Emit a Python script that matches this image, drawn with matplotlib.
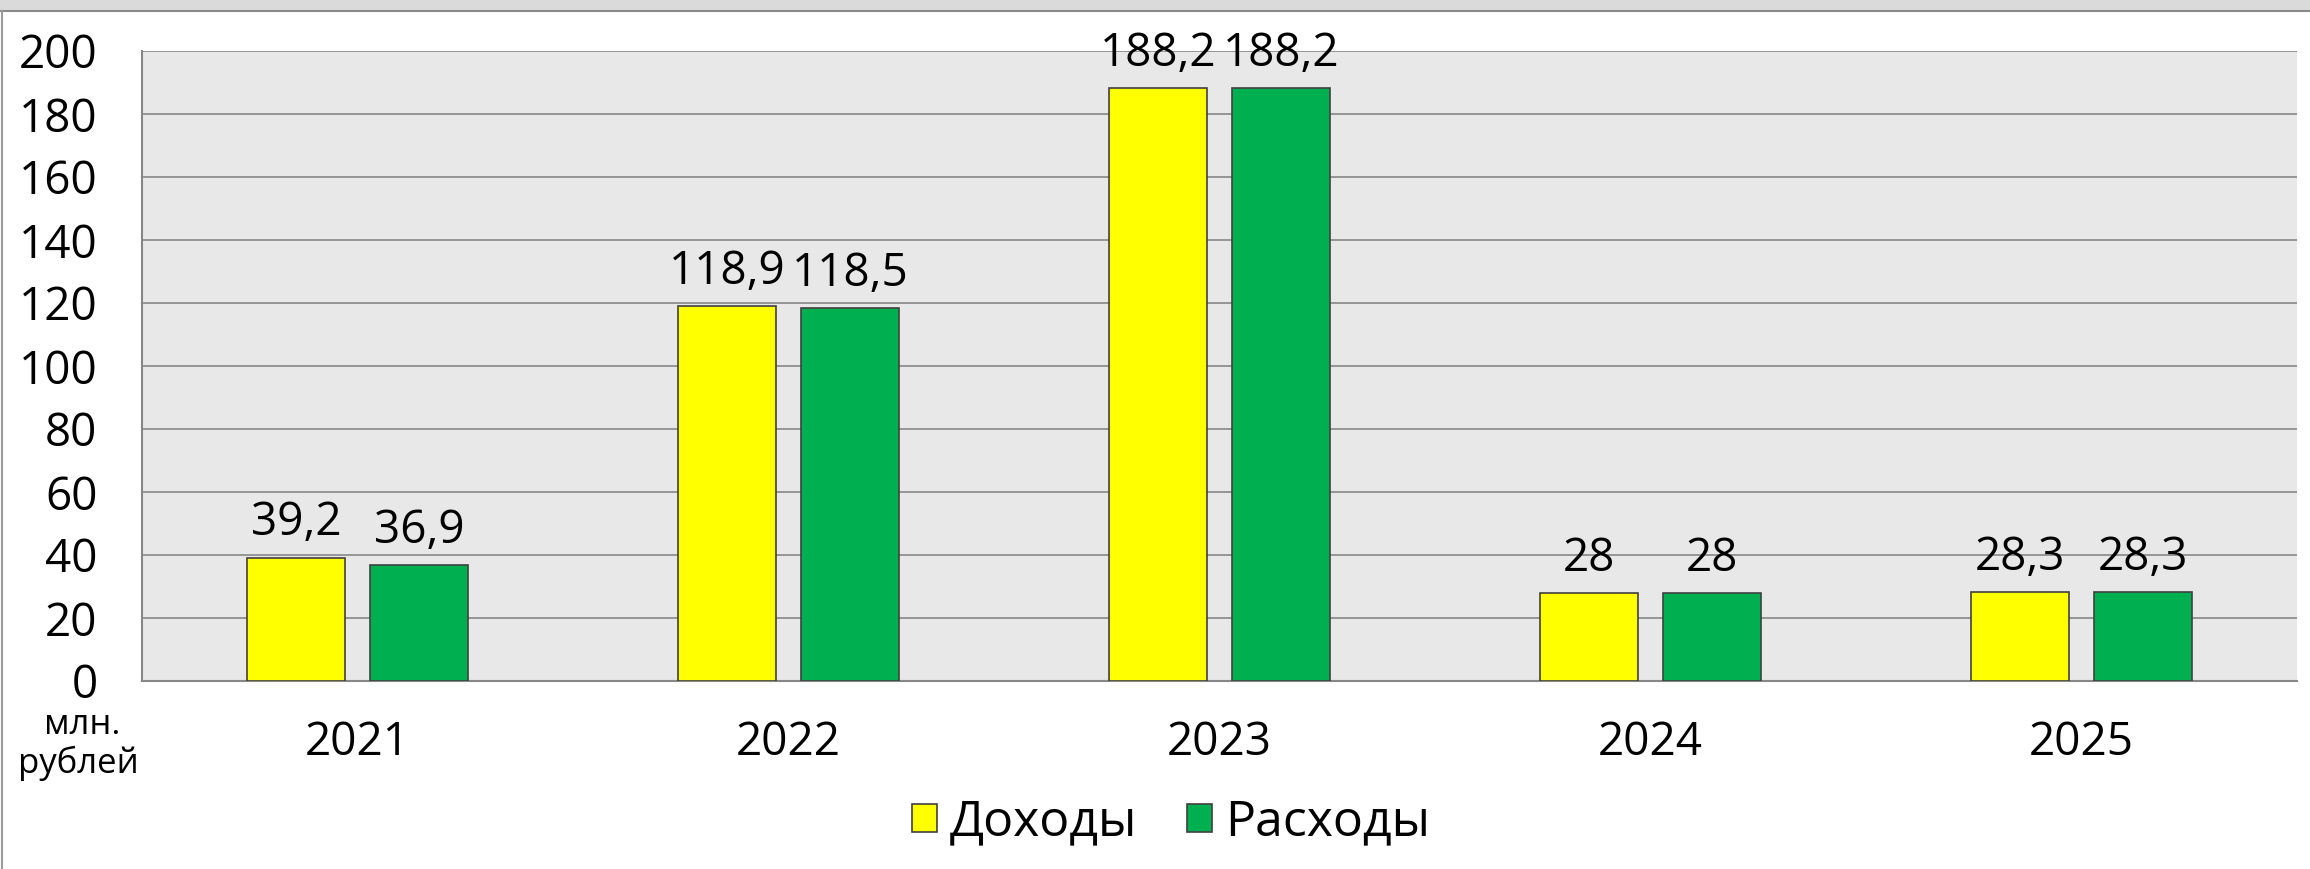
import matplotlib.pyplot as plt
import numpy as np
from matplotlib.patches import Rectangle
from matplotlib.lines import Line2D

plt.rcParams['font.family'] = ['Open Sans', 'DejaVu Sans']

years = ['2021', '2022', '2023', '2024', '2025']
dohody = [39.2, 118.9, 188.2, 28, 28.3]
rashody = [36.9, 118.5, 188.2, 28, 28.3]
dohody_labels = ['39,2', '118,9', '188,2', '28', '28,3']
rashody_labels = ['36,9', '118,5', '188,2', '28', '28,3']

W, H = 2310, 869
fig = plt.figure(figsize=(W / 100, H / 100), dpi=100)

# frame of the original screenshot
fig.patches.append(Rectangle((0, 1 - 10 / H), 1, 10 / H, transform=fig.transFigure,
                             facecolor='#dadada', edgecolor='none'))
fig.lines.append(Line2D([0, 1], [1 - 11 / H, 1 - 11 / H], transform=fig.transFigure,
                        color='#8a8a8a', lw=1.5))
fig.lines.append(Line2D([1.5 / W, 1.5 / W], [0, 1 - 11 / H], transform=fig.transFigure,
                        color='#9a9a9a', lw=1.5))

ax = fig.add_axes([142 / W, (H - 681) / H, 2155 / W, 630 / H])
ax.set_facecolor('#e8e8e8')

x = np.arange(len(years))
w = 0.227
off = 0.143
b1 = ax.bar(x - off, dohody, w, color='#ffff00', edgecolor='#404040', linewidth=1.2,
            label='Доходы', zorder=3)
b2 = ax.bar(x + off, rashody, w, color='#00b050', edgecolor='#404040', linewidth=1.2,
            label='Расходы', zorder=3)

for bars, labs in [(b1, dohody_labels), (b2, rashody_labels)]:
    for r, t in zip(bars, labs):
        ax.annotate(t, (r.get_x() + r.get_width() / 2, r.get_height()),
                    xytext=(0, 16), textcoords='offset points',
                    ha='center', va='baseline', fontsize=33)

ax.set_xlim(-0.5, len(years) - 0.5)
ax.set_ylim(0, 200)
ax.set_yticks(range(0, 201, 20))
ax.tick_params(axis='y', labelsize=33, length=0, pad=32)
ax.set_xticks(x)
ax.set_xticklabels(years)
ax.tick_params(axis='x', labelsize=33, length=0, pad=28)
ax.grid(axis='y', color='#878787', linewidth=1.2, zorder=0)
ax.set_axisbelow(True)
for s in ['top', 'right']:
    ax.spines[s].set_visible(False)
for s in ['left', 'bottom']:
    ax.spines[s].set_color('#878787')
    ax.spines[s].set_linewidth(1.5)

fig.text(82 / W, 1 - 725 / H, 'млн.', ha='center', va='center', fontsize=25)
fig.text(78 / W, 1 - 763 / H, 'рублей', ha='center', va='center', fontsize=25)

fig.legend(handles=[b1, b2], loc='center', bbox_to_anchor=(1171 / W, 1 - 823 / H),
           ncol=2, frameon=False, fontsize=36, handlelength=0.5, handleheight=0.5,
           handletextpad=0.25, columnspacing=1.0)

fig.savefig('out.png', dpi=100, facecolor='white')
